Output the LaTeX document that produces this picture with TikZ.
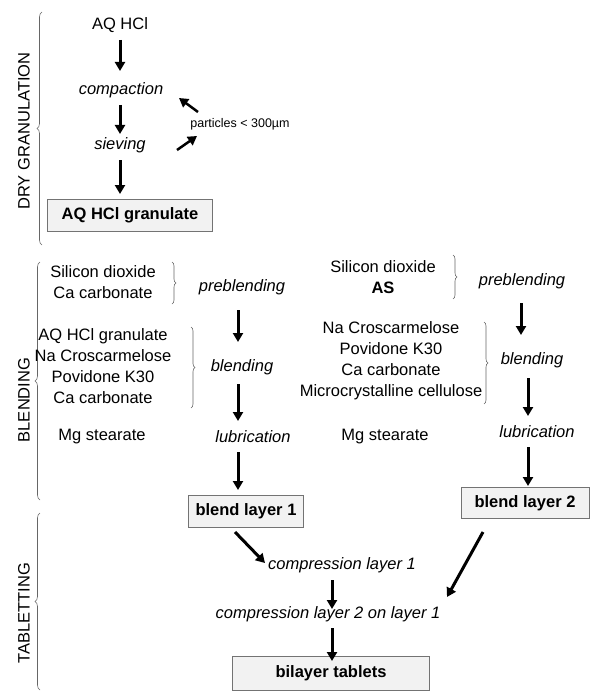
\documentclass[tikz,border=0pt]{standalone}
\usepackage{fontspec}
\setmainfont{Liberation Sans}
\usetikzlibrary{arrows.meta,decorations.pathreplacing}
\begin{document}
\begin{tikzpicture}[x=1pt,y=-1pt,
  txt/.style={font=\fontsize{16.5}{21}\selectfont, inner sep=0pt, align=center},
  proc/.style={txt, font=\fontsize{16.5}{21}\selectfont\itshape},
  stage/.style={txt, rotate=90},
  boxnode/.style={txt, font=\fontsize{16.5}{21}\selectfont\bfseries, draw=black!55, fill=black!5, line width=0.8pt, minimum height=32pt, inner xsep=0pt},
  flow/.style={line width=3pt, -{Triangle[length=9pt,width=10pt]}},
  bigbrace/.style={draw=black!60, line width=0.6pt, decorate, decoration={brace, amplitude=5pt}},
  smallbrace/.style={draw=black!60, line width=0.6pt, decorate, decoration={brace, amplitude=4pt}}
]
\useasboundingbox (0,0) rectangle (600,698);

% stage labels and braces
\node[stage] (sdry) at (24,131) {DRY GRANULATION};
\node[stage] (sblend) at (24,400) {BLENDING};
\node[stage] (stab) at (24,613) {TABLETTING};
\coordinate (b1t) at (42,12); \coordinate (b1b) at (42,245);
\coordinate (b2t) at (40,262); \coordinate (b2b) at (40,500);
\coordinate (b3t) at (40,513); \coordinate (b3b) at (40,690);
\draw[bigbrace] (b1b) -- (b1t);
\draw[bigbrace] (b2b) -- (b2t);
\draw[bigbrace] (b3b) -- (b3t);

% dry granulation
\node[txt] (aq) at (120,25) {AQ HCl};
\node[proc] (comp) at (121,90) {compaction};
\node[proc] (siev) at (120,145) {sieving};
\node[boxnode, minimum width=165pt] (gran) at (130,215) {AQ HCl granulate};
\node[txt, font=\fontsize{12.5}{15}\selectfont] (part) at (240,124) {particles < 300µm};
\draw[flow] (120,40) -- (120,71);
\draw[flow] (120,105) -- (120,134);
\draw[flow] (120,160) -- (120,194);
\coordinate (pa1) at (198,112); \coordinate (pa1e) at (179,98);
\coordinate (pa2) at (177,150); \coordinate (pa2e) at (197,136);
\draw[flow, line width=2.5pt] (pa1) -- (pa1e);
\draw[flow, line width=2.5pt] (pa2) -- (pa2e);

% blending, layer 1
\node[txt] (l1a) at (103,282.5) {Silicon dioxide\\Ca carbonate};
\draw[smallbrace] (172,262) -- (172,304);
\node[proc] (pre1) at (242,287) {preblending};
\node[txt] (l1b) at (103,366.5) {AQ HCl granulate\\Na Croscarmelose\\Povidone K30\\Ca carbonate};
\draw[smallbrace] (191,327) -- (191,408);
\node[proc] (bl1) at (242,367) {blending};
\node[txt] (mg1) at (102,437) {Mg stearate};
\node[proc] (lub1) at (253,437) {lubrication};
\node[boxnode, minimum width=115pt] (bl1box) at (246,511) {blend layer 1};
\draw[flow] (238,310) -- (238,342);
\draw[flow] (238,384) -- (238,421);
\draw[flow] (238,452) -- (238,490);

% blending, layer 2
\node[txt] (l2a) at (383,277.5) {Silicon dioxide\\\textbf{AS}};
\draw[smallbrace] (453,255) -- (453,299);
\node[proc] (pre2) at (522,281) {preblending};
\node[txt] (l2b) at (391,360.5) {Na Croscarmelose\\Povidone K30\\Ca carbonate\\Microcrystalline cellulose};
\draw[smallbrace] (484,322) -- (484,404);
\node[proc] (bl2) at (532,360) {blending};
\node[txt] (mg2) at (385,437) {Mg stearate};
\node[proc] (lub2) at (537,432) {lubrication};
\node[boxnode, minimum width=128pt, minimum height=31pt] (bl2box) at (525,503) {blend layer 2};
\draw[flow] (521,303) -- (521,335);
\draw[flow] (528,378) -- (528,416);
\draw[flow] (528,447) -- (528,486);

% tabletting
\node[proc] (c1) at (342,565) {compression layer 1};
\node[proc] (c2) at (328,614) {compression layer 2 on layer 1};
\node[boxnode, minimum width=197pt, minimum height=34pt] (tab) at (331,673) {bilayer tablets};
\draw[flow] (235,532) -- (265,563);
\draw[flow] (483,532) -- (447,597);
\draw[flow] (332,580) -- (332,609);
\draw[flow] (332,628) -- (332,661);
\end{tikzpicture}
\end{document}
